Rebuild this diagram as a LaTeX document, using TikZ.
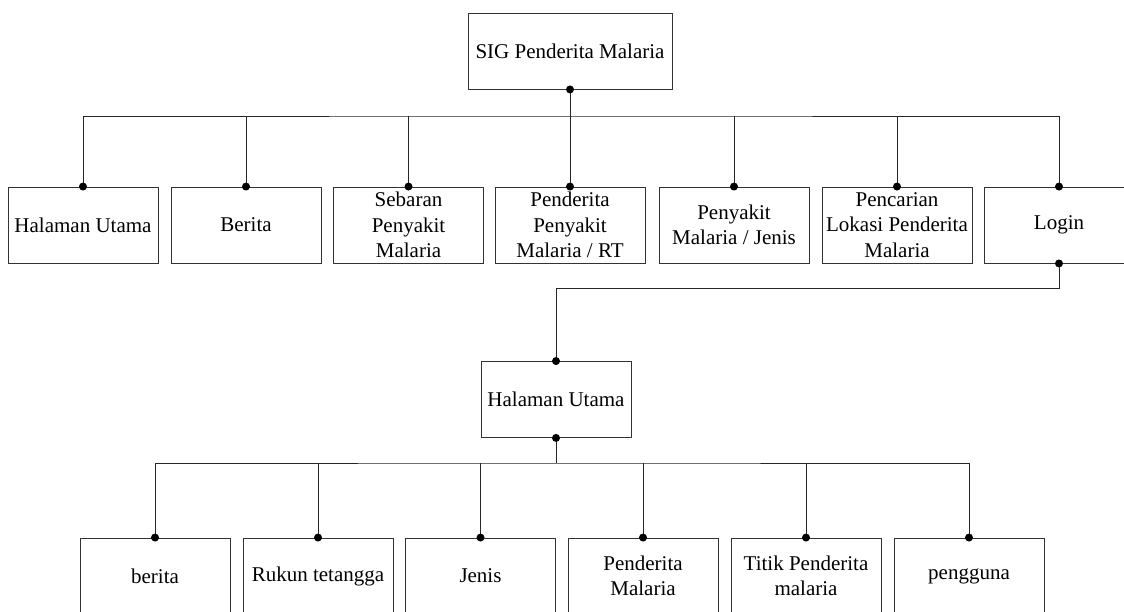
\documentclass[tikz,border=0pt]{standalone}
\usepackage{fontspec}
\setmainfont{Liberation Serif}
\begin{document}
\begin{tikzpicture}[x=1pt,y=-1pt,
  box/.style={draw=black!80,line width=0.9pt,rectangle,minimum width=150pt,minimum height=76pt,inner sep=0pt,align=center,font=\fontsize{21}{25.5}\selectfont,text=black},
  conn/.style={draw=black!85,line width=0.9pt},
  dot/.style={fill=black}]
\useasboundingbox (0,0) rectangle (1124,611);
\clip (0,0) rectangle (1124,611);
\fill[white] (0,0) rectangle (1124,611);
% top
\node[box,minimum width=204pt] (top) at (570,51) {SIG Penderita Malaria};
% row 1
\node[box] (b1) at (83,225) {Halaman Utama};
\node[box] (b2) at (246,225) {Berita};
\node[box] (b3) at (408.5,225) {Sebaran\\Penyakit\\Malaria};
\node[box] (b4) at (570,225) {Penderita\\Penyakit\\Malaria / RT};
\node[box] (b5) at (734,225) {Penyakit\\Malaria / Jenis};
\node[box] (b6) at (897,225) {Pencarian\\Lokasi Penderita\\Malaria};
\node[box] (b7) at (1059,225) {Login};
% second level
\node[box] (hu) at (556,399.5) {Halaman Utama};
\node[box] (c1) at (155,576) {berita};
\node[box] (c2) at (318,576) {Rukun tetangga};
\node[box] (c3) at (480.5,576) {Jenis};
\node[box] (c4) at (643,576) {Penderita\\Malaria};
\node[box] (c5) at (806,576) {Titik Penderita\\malaria};
\node[box] (c6) at (969,576) {pengguna};
% bus 1
\coordinate (bus1) at (570,116);
\draw[conn] (top.south) -- (b4.north);
\draw[conn] (b1.north) |- (bus1) -| (b7.north);
\foreach \n in {b2,b3,b5,b6} \draw[conn] (\n.north) -- (\n.north |- bus1);
\foreach \n in {top.south,b1.north,b2.north,b3.north,b4.north,b5.north,b6.north,b7.north}
  \fill[dot] (\n) circle (4);
% login link
\coordinate (lk) at (556,288);
\draw[conn] (b7.south) |- (lk) -- (hu.north);
\fill[dot] (b7.south) circle (4);
\fill[dot] (hu.north) circle (4);
% bus 2
\coordinate (bus2) at (556,463);
\draw[conn] (hu.south) -- (bus2);
\draw[conn] (c1.north) |- (bus2) -| (c6.north);
\foreach \n in {c2,c3,c4,c5} \draw[conn] (\n.north) -- (\n.north |- bus2);
\foreach \n in {hu.south,c1.north,c2.north,c3.north,c4.north,c5.north,c6.north}
  \fill[dot] (\n) circle (4);
\end{tikzpicture}
\end{document}
